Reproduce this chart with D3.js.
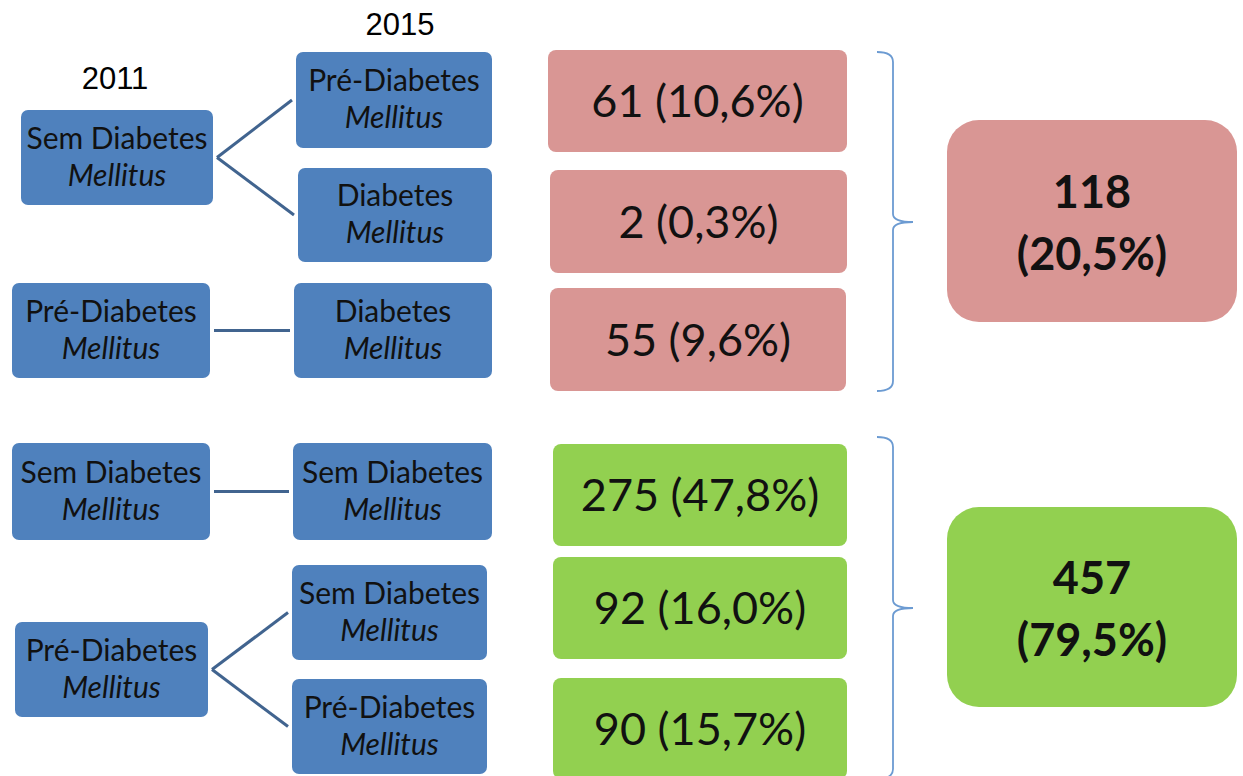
<!DOCTYPE html>
<html>
<head>
<meta charset="utf-8">
<script src="https://cdn.jsdelivr.net/npm/d3@7"></script>
<style>
  body { margin: 0; background: #fff; }
  svg { display: block; }
</style>
</head>
<body>
<svg id="chart" width="1243" height="776"></svg>
<script>
// data
var years = ['2011', '2015'];
var statusFrom = ['Sem Diabetes', 'Pré-Diabetes', 'Sem Diabetes', 'Pré-Diabetes'];
var statusTo = ['Pré-Diabetes', 'Diabetes', 'Diabetes', 'Sem Diabetes', 'Sem Diabetes', 'Pré-Diabetes'];
var transitionFrom = [0, 0, 1, 2, 3, 3];   // index into statusFrom for each statusTo
var counts = [61, 2, 55, 275, 92, 90];
var percents = ['10,6%', '0,3%', '9,6%', '47,8%', '16,0%', '15,7%'];
var outcome = [0, 0, 0, 1, 1, 1];          // 0 = progressed, 1 = stable / improved
var totals = [118, 457];
var totalPercents = ['20,5%', '79,5%'];

// layout
var leftBoxes = [
  {x: 21, y: 110, w: 192, h: 95},
  {x: 12, y: 283, w: 198, h: 95},
  {x: 12, y: 443, w: 198, h: 97},
  {x: 15, y: 622, w: 193, h: 95}
];
var rightBoxes = [
  {x: 296, y: 52, w: 196, h: 96},
  {x: 298, y: 168, w: 194, h: 94},
  {x: 294, y: 283, w: 198, h: 95},
  {x: 293, y: 443, w: 199, h: 97},
  {x: 292, y: 565, w: 195, h: 95},
  {x: 292, y: 679, w: 195, h: 95}
];
var countBoxes = [
  {x: 548, y: 50, w: 299, h: 102},
  {x: 550, y: 170, w: 297, h: 103},
  {x: 550, y: 288, w: 296, h: 103},
  {x: 553, y: 444, w: 294, h: 102},
  {x: 553, y: 557, w: 294, h: 102},
  {x: 553, y: 678, w: 294, h: 101}
];
var totalBoxes = [
  {x: 947, y: 120, w: 290, h: 202},
  {x: 947, y: 507, w: 290, h: 200}
];
var braces = [
  {top: 52, mid: 222, bot: 391},
  {top: 437, mid: 608, bot: 779}
];
var yearPos = [{x: 115, y: 89}, {x: 400, y: 35}];

var blue = '#4f81bd';
var outcomeColor = d3.scaleOrdinal().domain([0, 1]).range(['#d99694', '#92d050']);
var font = 'Lato, "Noto Sans", sans-serif';

var svg = d3.select('#chart');

// year headers
svg.selectAll('text.year')
  .data(years)
  .enter().append('text')
  .attr('class', 'year')
  .attr('x', function(d, i) { return yearPos[i].x; })
  .attr('y', function(d, i) { return yearPos[i].y; })
  .attr('text-anchor', 'middle')
  .style('font-family', '"Liberation Sans", Arial, sans-serif')
  .style('font-size', '31px')
  .style('fill', '#000')
  .text(function(d) { return d; });

// connectors
svg.selectAll('line.link')
  .data(statusTo)
  .enter().append('line')
  .attr('class', 'link')
  .attr('x1', function(d, i) { var b = leftBoxes[transitionFrom[i]]; return b.x + b.w + 4; })
  .attr('y1', function(d, i) { var b = leftBoxes[transitionFrom[i]]; return b.y + b.h / 2; })
  .attr('x2', function(d, i) { return rightBoxes[i].x - 4; })
  .attr('y2', function(d, i) { return rightBoxes[i].y + rightBoxes[i].h / 2; })
  .style('stroke', '#41648f')
  .style('stroke-width', 3);

function statusBox(sel, boxes) {
  var g = sel.enter().append('g')
    .attr('transform', function(d, i) { return 'translate(' + boxes[i].x + ',' + boxes[i].y + ')'; });
  g.append('rect')
    .attr('width', function(d, i) { return boxes[i].w; })
    .attr('height', function(d, i) { return boxes[i].h; })
    .attr('rx', 7)
    .style('fill', blue);
  var t = g.append('text')
    .attr('text-anchor', 'middle')
    .style('font-family', font)
    .style('font-size', '30px')
    .style('fill', '#111');
  t.append('tspan')
    .attr('x', function(d, i) { return boxes[i].w / 2; })
    .attr('y', function(d, i) { return boxes[i].h / 2 - 9; })
    .text(function(d) { return d; });
  t.append('tspan')
    .attr('x', function(d, i) { return boxes[i].w / 2; })
    .attr('y', function(d, i) { return boxes[i].h / 2 + 28; })
    .style('font-style', 'italic')
    .text('Mellitus');
}

svg.selectAll('g.from').data(statusFrom).call(statusBox, leftBoxes);
svg.selectAll('g.to').data(statusTo).call(statusBox, rightBoxes);

// count boxes
var cg = svg.selectAll('g.count')
  .data(counts)
  .enter().append('g')
  .attr('class', 'count')
  .attr('transform', function(d, i) { return 'translate(' + countBoxes[i].x + ',' + countBoxes[i].y + ')'; });
cg.append('rect')
  .attr('width', function(d, i) { return countBoxes[i].w; })
  .attr('height', function(d, i) { return countBoxes[i].h; })
  .attr('rx', 8)
  .style('fill', function(d, i) { return outcomeColor(outcome[i]); });
cg.append('text')
  .attr('x', function(d, i) { return countBoxes[i].w / 2; })
  .attr('y', function(d, i) { return countBoxes[i].h / 2 + 16; })
  .attr('text-anchor', 'middle')
  .style('font-family', font)
  .style('font-size', '45px')
  .style('fill', '#111')
  .text(function(d, i) { return d + ' (' + percents[i] + ')'; });

// braces
svg.selectAll('path.brace')
  .data(braces)
  .enter().append('path')
  .attr('class', 'brace')
  .attr('d', function(b) {
    var x0 = 877, xm = 893, xt = 913;
    return 'M' + x0 + ',' + b.top +
      'Q' + xm + ',' + b.top + ' ' + xm + ',' + (b.top + 10) +
      'L' + xm + ',' + (b.mid - 8) +
      'Q' + xm + ',' + b.mid + ' ' + xt + ',' + b.mid +
      'Q' + xm + ',' + b.mid + ' ' + xm + ',' + (b.mid + 8) +
      'L' + xm + ',' + (b.bot - 10) +
      'Q' + xm + ',' + b.bot + ' ' + x0 + ',' + b.bot;
  })
  .style('fill', 'none')
  .style('stroke', '#6c9bd2')
  .style('stroke-width', 1.8);

// totals
var tg = svg.selectAll('g.total')
  .data(totals)
  .enter().append('g')
  .attr('class', 'total')
  .attr('transform', function(d, i) { return 'translate(' + totalBoxes[i].x + ',' + totalBoxes[i].y + ')'; });
tg.append('rect')
  .attr('width', function(d, i) { return totalBoxes[i].w; })
  .attr('height', function(d, i) { return totalBoxes[i].h; })
  .attr('rx', 32)
  .style('fill', function(d, i) { return outcomeColor(i); });
var tt = tg.append('text')
  .attr('text-anchor', 'middle')
  .style('font-family', font)
  .style('font-size', '45px')
  .style('font-weight', 'bold')
  .style('fill', '#111');
tt.append('tspan')
  .attr('x', function(d, i) { return totalBoxes[i].w / 2; })
  .attr('y', function(d, i) { return totalBoxes[i].h / 2 - 13; })
  .text(function(d) { return d; });
tt.append('tspan')
  .attr('x', function(d, i) { return totalBoxes[i].w / 2; })
  .attr('y', function(d, i) { return totalBoxes[i].h / 2 + 49; })
  .text(function(d, i) { return '(' + totalPercents[i] + ')'; });
</script>
</body>
</html>
